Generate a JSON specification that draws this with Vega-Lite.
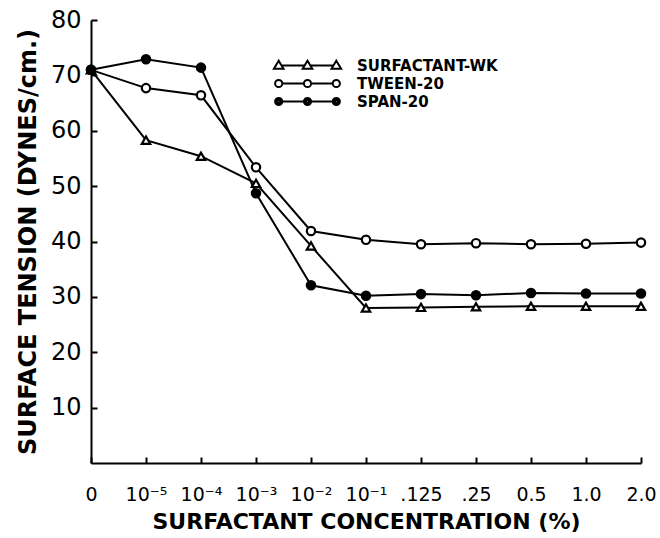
{
  "$schema": "https://vega.github.io/schema/vega-lite/v6.json",
  "autosize": {"type": "none"},
  "padding": {"left": 91, "top": 20, "right": 20, "bottom": 75},
  "width": 550,
  "height": 443,
  "background": "white",
  "config": {
    "view": {"stroke": null},
    "font": "DejaVu Sans",
    "axis": {
      "domainColor": "black",
      "domainWidth": 2,
      "tickColor": "black",
      "tickWidth": 2,
      "tickSize": -6,
      "grid": false,
      "labelColor": "black",
      "titleColor": "black",
      "labelFont": "DejaVu Sans",
      "titleFont": "DejaVu Sans",
      "titleFontWeight": "bold"
    }
  },
  "datasets": {
    "tension": [
      {"series": "SURFACTANT-WK", "conc": "0", "value": 71},
      {"series": "SURFACTANT-WK", "conc": "10⁻⁵", "value": 58.3},
      {"series": "SURFACTANT-WK", "conc": "10⁻⁴", "value": 55.4},
      {"series": "SURFACTANT-WK", "conc": "10⁻³", "value": 50.5},
      {"series": "SURFACTANT-WK", "conc": "10⁻²", "value": 39.2},
      {"series": "SURFACTANT-WK", "conc": "10⁻¹", "value": 28.0},
      {"series": "SURFACTANT-WK", "conc": ".125", "value": 28.1},
      {"series": "SURFACTANT-WK", "conc": ".25", "value": 28.2},
      {"series": "SURFACTANT-WK", "conc": "0.5", "value": 28.3},
      {"series": "SURFACTANT-WK", "conc": "1.0", "value": 28.3},
      {"series": "SURFACTANT-WK", "conc": "2.0", "value": 28.3},
      {"series": "TWEEN-20", "conc": "0", "value": 71},
      {"series": "TWEEN-20", "conc": "10⁻⁵", "value": 67.7},
      {"series": "TWEEN-20", "conc": "10⁻⁴", "value": 66.4},
      {"series": "TWEEN-20", "conc": "10⁻³", "value": 53.4},
      {"series": "TWEEN-20", "conc": "10⁻²", "value": 41.9},
      {"series": "TWEEN-20", "conc": "10⁻¹", "value": 40.3},
      {"series": "TWEEN-20", "conc": ".125", "value": 39.5},
      {"series": "TWEEN-20", "conc": ".25", "value": 39.7},
      {"series": "TWEEN-20", "conc": "0.5", "value": 39.5},
      {"series": "TWEEN-20", "conc": "1.0", "value": 39.6},
      {"series": "TWEEN-20", "conc": "2.0", "value": 39.8},
      {"series": "SPAN-20", "conc": "0", "value": 71},
      {"series": "SPAN-20", "conc": "10⁻⁵", "value": 72.9},
      {"series": "SPAN-20", "conc": "10⁻⁴", "value": 71.4},
      {"series": "SPAN-20", "conc": "10⁻³", "value": 48.7},
      {"series": "SPAN-20", "conc": "10⁻²", "value": 32.1},
      {"series": "SPAN-20", "conc": "10⁻¹", "value": 30.2},
      {"series": "SPAN-20", "conc": ".125", "value": 30.5},
      {"series": "SPAN-20", "conc": ".25", "value": 30.3},
      {"series": "SPAN-20", "conc": "0.5", "value": 30.7},
      {"series": "SPAN-20", "conc": "1.0", "value": 30.6},
      {"series": "SPAN-20", "conc": "2.0", "value": 30.6}
    ]
  },
  "data": {"name": "tension"},
  "encoding": {
    "x": {
      "field": "conc",
      "type": "ordinal",
      "scale": {"type": "point", "padding": 0, "domain": ["0", "10⁻⁵", "10⁻⁴", "10⁻³", "10⁻²", "10⁻¹", ".125", ".25", "0.5", "1.0", "2.0"]},
      "axis": {
        "title": "SURFACTANT CONCENTRATION  (%)",
        "labelAngle": 0,
        "labelFontSize": 19,
        "labelPadding": 28,
        "titleFontSize": 22,
        "titlePadding": 7
      }
    },
    "y": {
      "field": "value",
      "type": "quantitative",
      "scale": {"domain": [0, 80], "nice": false, "zero": true},
      "axis": {
        "title": "SURFACE TENSION  (DYNES/cm.)",
        "values": [10, 20, 30, 40, 50, 60, 70, 80],
        "labelFontSize": 24,
        "labelPadding": 16,
        "titleFontSize": 24,
        "titlePadding": 10
      }
    }
  },
  "resolve": {"scale": {"shape": "independent"}, "legend": {"shape": "independent"}},
  "layer": [
    {
      "mark": {"type": "line", "color": "black", "strokeWidth": 2},
      "encoding": {"detail": {"field": "series"}}
    },
    {
      "mark": {"type": "point", "filled": false, "stroke": "black", "strokeWidth": 2.2, "size": 70, "opacity": 1},
      "encoding": {
        "shape": {
          "field": "series",
          "type": "nominal",
          "scale": {"domain": ["SURFACTANT-WK", "TWEEN-20", "SPAN-20"], "range": ["triangle-up", "circle", "circle"]},
          "legend": null
        },
        "fill": {
          "field": "series",
          "type": "nominal",
          "scale": {"domain": ["SURFACTANT-WK", "TWEEN-20", "SPAN-20"], "range": ["white", "white", "black"]},
          "legend": null
        }
      }
    },
    {
      "mark": {"type": "point", "filled": false, "color": "black", "strokeWidth": 2, "opacity": 0, "size": 64},
      "encoding": {
        "shape": {
          "field": "series",
          "type": "nominal",
          "scale": {
            "domain": ["SURFACTANT-WK", "TWEEN-20", "SPAN-20"],
            "range": [
              "M-7.2,-1.2 L-6,0.8 L-8.4,0.8 Z M0,-1.2 L1.2,0.8 L-1.2,0.8 Z M7.2,-1.2 L8.4,0.8 L6,0.8 Z M-6.3,0 L-0.9,0 M0.9,0 L6.3,0",
              "M-8.1,0 A0.9,0.9 0 1,0 -6.3,0 A0.9,0.9 0 1,0 -8.1,0 Z M-0.9,0 A0.9,0.9 0 1,0 0.9,0 A0.9,0.9 0 1,0 -0.9,0 Z M6.3,0 A0.9,0.9 0 1,0 8.1,0 A0.9,0.9 0 1,0 6.3,0 Z M-6.3,0 L-0.9,0 M0.9,0 L6.3,0",
              "M-8.1,0 A0.9,0.9 0 1,0 -6.3,0 A0.9,0.9 0 1,0 -8.1,0 Z M-7.7,0 A0.5,0.5 0 1,0 -6.7,0 A0.5,0.5 0 1,0 -7.7,0 Z M-7.35,0 A0.15,0.15 0 1,0 -7.05,0 A0.15,0.15 0 1,0 -7.35,0 Z M-0.9,0 A0.9,0.9 0 1,0 0.9,0 A0.9,0.9 0 1,0 -0.9,0 Z M-0.5,0 A0.5,0.5 0 1,0 0.5,0 A0.5,0.5 0 1,0 -0.5,0 Z M-0.15,0 A0.15,0.15 0 1,0 0.15,0 A0.15,0.15 0 1,0 -0.15,0 Z M6.3,0 A0.9,0.9 0 1,0 8.1,0 A0.9,0.9 0 1,0 6.3,0 Z M6.7,0 A0.5,0.5 0 1,0 7.7,0 A0.5,0.5 0 1,0 6.7,0 Z M7.05,0 A0.15,0.15 0 1,0 7.35,0 A0.15,0.15 0 1,0 7.05,0 Z M-6.3,0 L-0.9,0 M0.9,0 L6.3,0"
            ]
          },
          "legend": {
            "title": null,
            "orient": "none",
            "legendX": 209,
            "legendY": 38,
            "padding": 0,
            "symbolSize": 64,
            "symbolOpacity": 1,
            "symbolStrokeColor": "black",
            "symbolFillColor": "transparent",
            "symbolStrokeWidth": 2,
            "labelOffset": 42,
            "labelFont": "DejaVu Sans",
            "labelFontSize": 15,
            "labelFontWeight": "bold",
            "labelColor": "black",
            "rowPadding": 1
          }
        }
      }
    }
  ]
}
